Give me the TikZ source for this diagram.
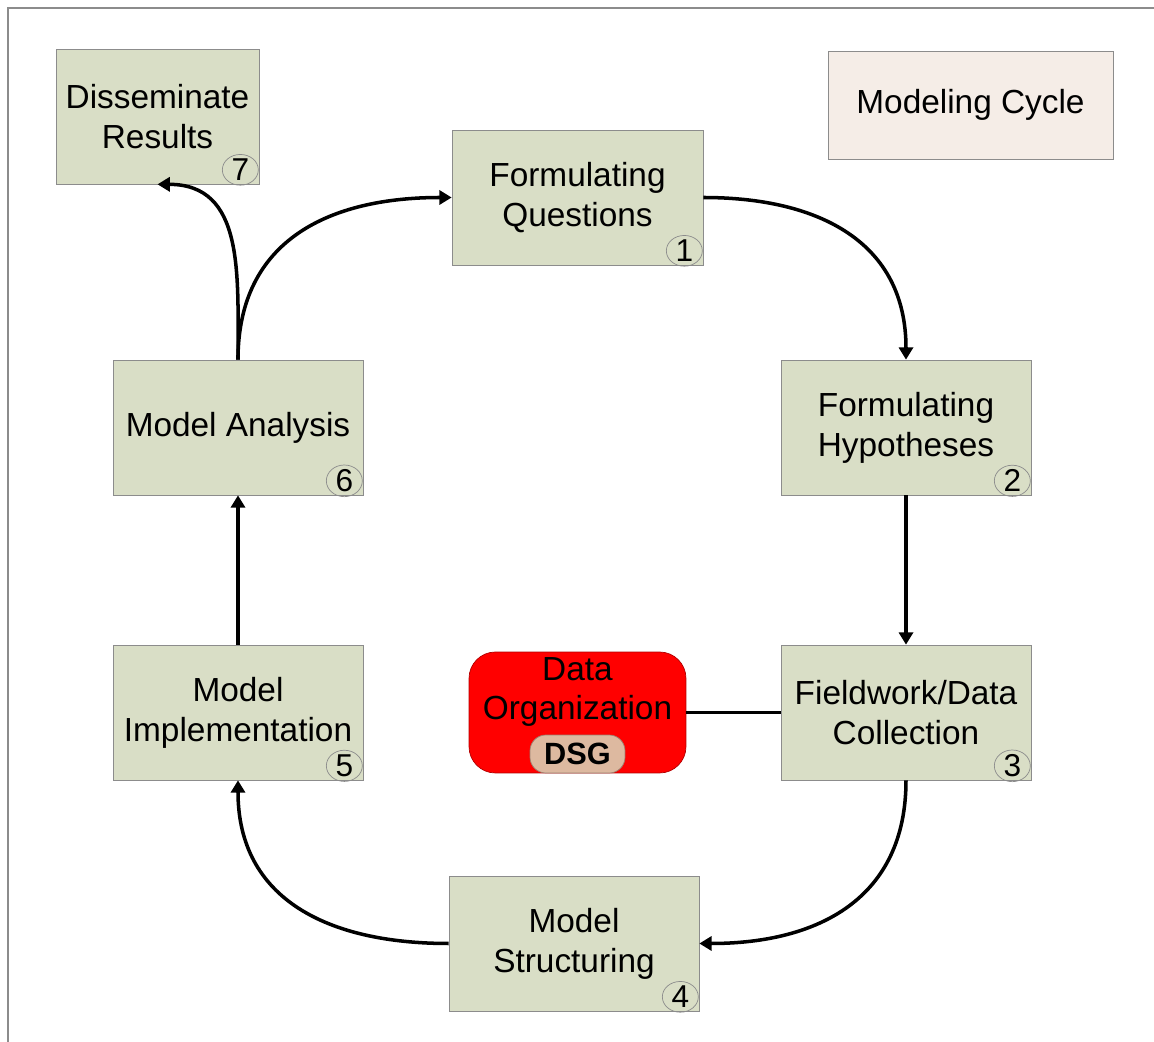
\documentclass[tikz,border=0pt]{standalone}
\usepackage{fontspec}
\setmainfont{Liberation Sans}
\usepackage{xcolor}
\usetikzlibrary{calc,arrows.meta,shapes,positioning}

\definecolor{boxgreen}{RGB}{217,222,198}
\definecolor{boxedge}{RGB}{140,140,140}
\definecolor{titlefill}{RGB}{245,237,231}
\definecolor{dsgfill}{RGB}{221,185,160}

\begin{document}
\begin{tikzpicture}[x=0.02cm,y=0.02cm,
  stagebox/.style={draw=boxedge, fill=boxgreen, minimum width=5cm, minimum height=2.7cm,
    align=center, font=\fontsize{19}{22.7}\selectfont, inner sep=2pt},
  numcirc/.style={ellipse, draw=boxedge, thin, inner sep=0pt, minimum width=0.72cm,
    minimum height=0.58cm, font=\fontsize{18}{18}\selectfont},
  flow/.style={line width=2pt, looseness=1.15, -{Triangle[length=7pt,width=8pt]}}]

\useasboundingbox (0,0) rectangle (1154,1042);
\draw[boxedge, line width=0.8pt] (8,0) -- (8,1034) -- (1154,1034);

% boxes of the cycle
\node[stagebox, minimum width=4.06cm] (dis) at (157.5,925.5) {Disseminate\\Results};
\node[stagebox, minimum width=5.02cm] (quest) at (577.5,844.5) {Formulating\\Questions};
\node[stagebox] (hyp) at (906,614.5) {Formulating\\Hypotheses};
\node[stagebox] (field) at (906,329.5) {Fieldwork/Data\\Collection};
\node[stagebox] (struct) at (574,98.5) {Model\\Structuring};
\node[stagebox] (impl) at (238,329.5) {Model\\Implementation};
\node[stagebox] (anal) at (238,614.5) {Model Analysis};

\node[draw=boxedge, fill=titlefill, minimum width=5.7cm, minimum height=2.16cm,
  font=\fontsize{19}{22.7}\selectfont] (title) at (970.5,937) {Modeling Cycle};

% numbers
\node[numcirc] (n1) at ($(quest.south east)+(-19,14.5)$) {1};
\node[numcirc] (n2) at ($(hyp.south east)+(-19,14.5)$) {2};
\node[numcirc] (n3) at ($(field.south east)+(-19,14.5)$) {3};
\node[numcirc] (n4) at ($(struct.south east)+(-19,14.5)$) {4};
\node[numcirc] (n5) at ($(impl.south east)+(-19,14.5)$) {5};
\node[numcirc] (n6) at ($(anal.south east)+(-19,14.5)$) {6};
\node[numcirc] (n7) at ($(dis.south east)+(-19,14.5)$) {7};

% data organization
\node[draw=red!70!black, fill=red, rounded corners=15pt, minimum width=4.34cm,
  minimum height=2.42cm] (dorg) at (577.5,329.5) {};
\node[align=center, font=\fontsize{19}{22.7}\selectfont, inner sep=0pt] (dtext) at (577.5,350) {Data\\Organization};
\node[draw=dsgfill!70!black, fill=dsgfill, rounded corners=9pt, minimum width=1.9cm,
  minimum height=0.76cm, font=\fontsize{17.5}{17.5}\selectfont\bfseries] (dsg) at (577.5,288) {DSG};

\draw[line width=1.3pt] (dorg.east) -- (field.west);

% cycle arrows
\draw[flow] (quest.east) to[out=0,in=90] (hyp.north);
\draw[flow] (hyp.south) -- (field.north);
\draw[flow] (field.south) to[out=-90,in=0] (struct.east);
\draw[flow] (struct.west) to[out=180,in=-90] (impl.south);
\draw[flow] (impl.north) -- (anal.south);
\draw[flow] (anal.north) to[out=90,in=180] (quest.west);
\draw[flow] (anal.north) to[out=90,in=0] (dis.south);

\end{tikzpicture}
\end{document}
